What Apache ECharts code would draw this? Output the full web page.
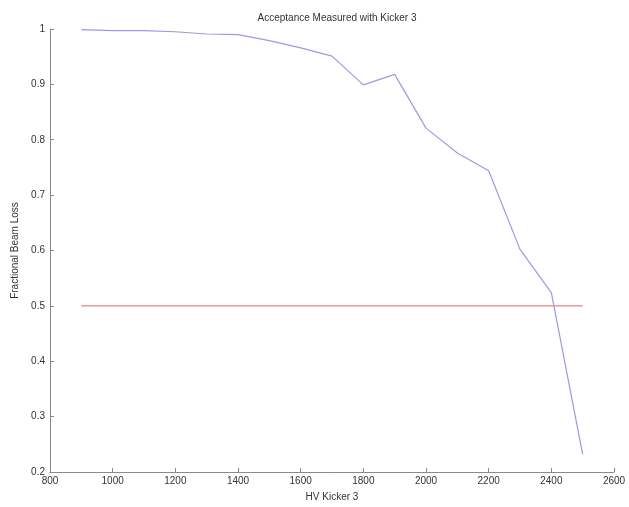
<!DOCTYPE html>
<html>
<head>
<meta charset="utf-8">
<script src="https://cdn.jsdelivr.net/npm/echarts@6/dist/echarts.min.js"></script>
<style>html,body{margin:0;padding:0;background:#fff;}#c{width:629px;height:507px;}</style>
</head>
<body>
<div id="c"></div>
<script>
const hv = [900,1000,1100,1200,1300,1400,1500,1600,1700,1800,1900,2000,2100,2200,2300,2400,2500];
const beamLoss = [0.999,0.997,0.997,0.995,0.991,0.990,0.979,0.966,0.951,0.899,0.918,0.821,0.776,0.744,0.602,0.524,0.232];
const thresholdX = [900,2500];
const thresholdY = [0.5,0.5];
const xTicks = [800,1000,1200,1400,1600,1800,2000,2200,2400,2600];
const yTicks = [0.2,0.3,0.4,0.5,0.6,0.7,0.8,0.9,1];

const chart = echarts.init(document.getElementById('c'), null, {renderer:'canvas'});
const font = 'Liberation Sans, Arial, sans-serif';
const axisCommon = {
  axisLine:{show:true, lineStyle:{color:'#8a8a8a', width:1}},
  axisTick:{show:true, inside:true, length:4, lineStyle:{color:'#8a8a8a'}},
  splitLine:{show:false},
  axisLabel:{color:'#333', fontSize:10, fontFamily:font},
  nameTextStyle:{color:'#333', fontSize:10, fontFamily:font}
};
chart.setOption({
  animation:false,
  backgroundColor:'#fff',
  title:{text:'Acceptance Measured with Kicker 3', left:332, top:8, textAlign:'center',
    textStyle:{fontSize:10, fontWeight:'normal', color:'#333', fontFamily:font}},
  grid:{left:50, right:15, top:29, bottom:34, containLabel:false},
  xAxis:Object.assign({}, axisCommon, {
    type:'value', min:xTicks[0], max:xTicks[xTicks.length-1], interval:200,
    name:'HV Kicker 3', nameLocation:'middle', nameGap:20,
    axisLabel:Object.assign({}, axisCommon.axisLabel, {margin:4, formatter:v=>String(v)})
  }),
  yAxis:Object.assign({}, axisCommon, {
    type:'value', min:yTicks[0], max:yTicks[yTicks.length-1], interval:0.1,
    name:'Fractional Beam Loss', nameLocation:'middle', nameGap:30,
    axisLabel:Object.assign({}, axisCommon.axisLabel, {margin:5, formatter:v=>String(Math.round(v*10)/10)})
  }),
  series:[
    {type:'line', data:hv.map((x,i)=>[x,beamLoss[i]]), symbol:'none',
     lineStyle:{color:'#9a9ae4', width:1.2}},
    {type:'line', data:thresholdX.map((x,i)=>[x,thresholdY[i]]), symbol:'none',
     lineStyle:{color:'#ef8080', width:1.2}}
  ]
});
</script>
</body>
</html>
